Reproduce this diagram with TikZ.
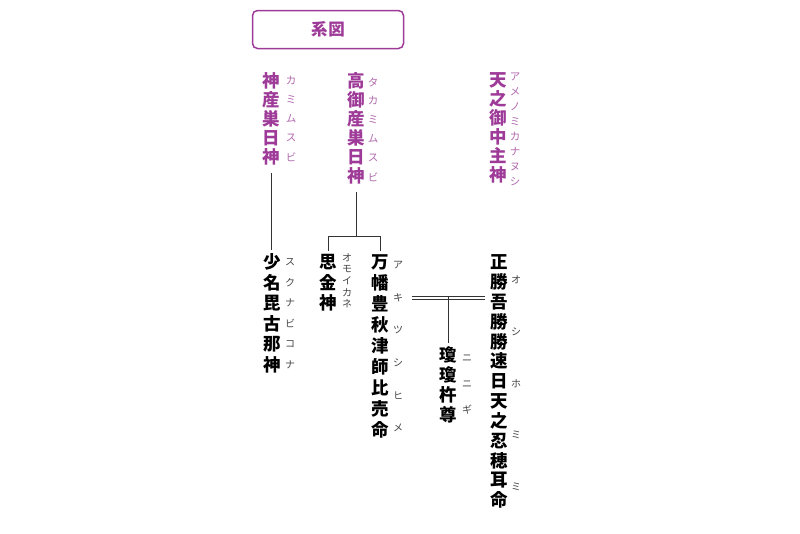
\documentclass[tikz,border=0pt]{standalone}
\usepackage{fontspec}
\newfontfamily\jp{Noto Sans CJK JP}
\definecolor{kpurple}{HTML}{9E3B98}
\definecolor{kruby}{HTML}{B06AAE}
\definecolor{kline}{HTML}{333333}
\definecolor{kgray}{HTML}{444444}
\newcommand\vcol[6]{%
  \foreach \c [count=\i] in {#6} {\node[#5] (#1-\i) at ({#2},{#3+(\i-1)*#4}) {\c};}}
\tikzset{
  topname/.style={font=\jp\bfseries\fontsize{17.5}{17.5}\selectfont, text=kpurple},
  topruby/.style={font=\jp\fontsize{10.5}{10.5}\selectfont, text=kruby},
  botname/.style={font=\jp\bfseries\fontsize{17.5}{17.5}\selectfont, text=black},
  botruby/.style={font=\jp\fontsize{10}{10}\selectfont, text=kgray},
  conn/.style={draw=kline, line width=0.9pt},
  titlebox/.style={draw=kpurple, line width=1.5pt, rounded corners=5pt, minimum width=151pt, minimum height=38pt, text=kpurple, font=\jp\bfseries\fontsize{16.5}{16.5}\selectfont}
}
\begin{document}
\begin{tikzpicture}[x=1pt,y=-1pt]
\useasboundingbox[fill=white] (0,0) rectangle (800,533);
\node[titlebox] (title) at (328,29.5) {系\kern1pt 図};
% top generation
\vcol{kA}{271}{81}{19}{topname}{神,産,巣,日,神}
\vcol{kAr}{291}{81}{19}{topruby}{カ,ミ,ム,ス,ビ}
\vcol{tk}{356}{81}{19}{topname}{高,御,産,巣,日,神}
\vcol{tkr}{373}{82}{19}{topruby}{タ,カ,ミ,ム,ス,ビ}
\vcol{am}{498}{80}{19}{topname}{天,之,御,中,主,神}
\vcol{amr}{515}{77}{15}{topruby}{ア,メ,ノ,ミ,カ,ナ,ヌ,シ}
% second generation
\vcol{sk}{272}{262}{20.6}{botname}{少,名,毘,古,那,神}
\vcol{skr}{290}{262}{20.6}{botruby}{ス,ク,ナ,ビ,コ,ナ}
\vcol{om}{328}{262}{20.6}{botname}{思,金,神}
\vcol{omr}{347}{258}{11.5}{botruby}{オ,モ,イ,カ,ネ}
\vcol{mh}{380}{262}{21}{botname}{万,幡,豊,秋,津,師,比,売,命}
\vcol{mhr}{398}{265}{32.6}{botruby}{ア,キ,ツ,シ,ヒ,メ}
\vcol{nn}{448}{355}{20}{botname}{瓊,瓊,杵,尊}
\vcol{nnr}{467}{358}{26}{botruby}{ニ,ニ,ギ}
\vcol{ms}{499}{262}{19.85}{botname}{正,勝,吾,勝,勝,速,日,天,之,忍,穂,耳,命}
\vcol{msr}{516}{280}{51.7}{botruby}{オ,シ,ホ,ミ,ミ}
% connectors
\draw[conn, shorten <=4pt] (kA-5.south) -- (kA-5.south |- sk-1.north);
\coordinate (jB) at (356,236);
\draw[conn, shorten <=4pt] (tk-6.south) -- (jB);
\draw[conn] (om-1.north) -- (om-1.north |- jB) -- (mh-1.north |- jB) -- (mh-1.north);
\coordinate (mL) at (412,298);
\coordinate (mR) at (485,298);
\coordinate (mM) at (448,298);
\draw[conn, line width=0.8pt, double, double distance=1.8pt] (mL) -- (mR);
\draw[conn] ([yshift=1.7pt]mM) -- (nn-1.north);
\end{tikzpicture}
\end{document}
